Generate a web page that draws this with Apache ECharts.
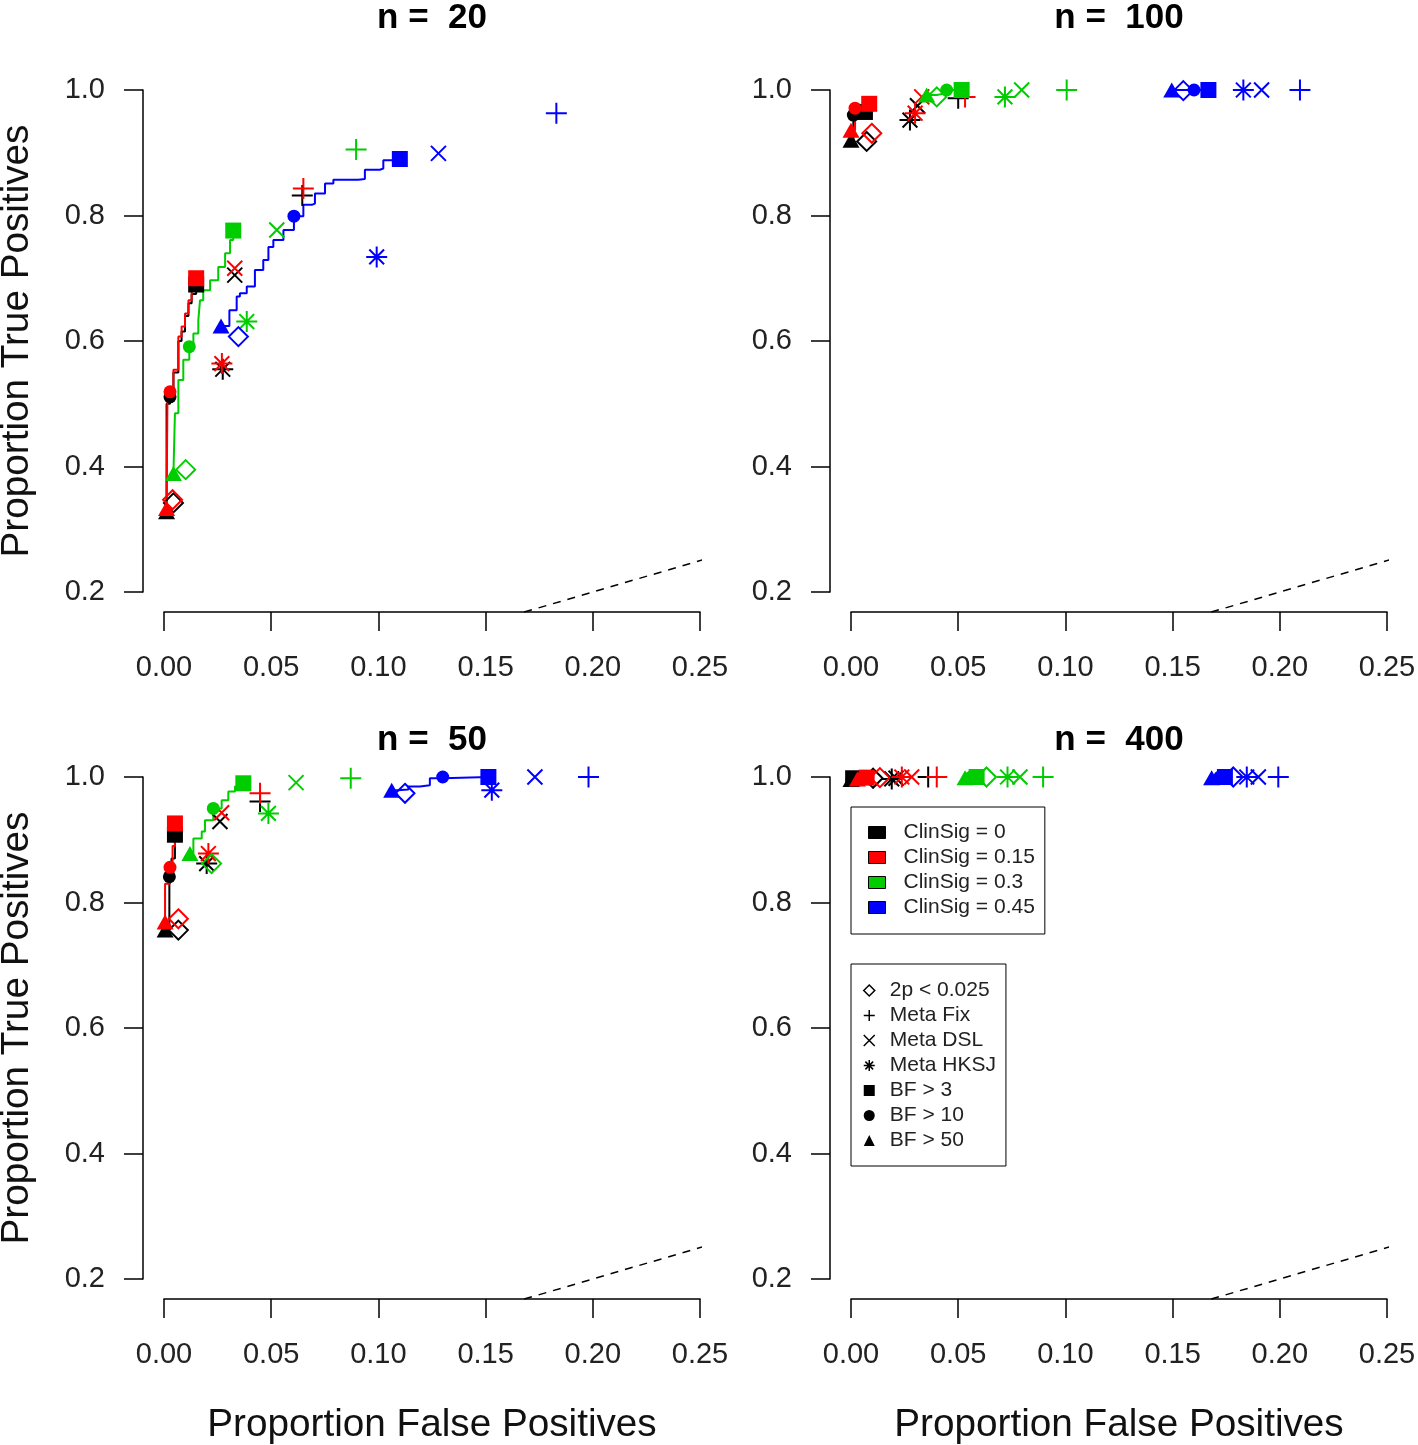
<!DOCTYPE html>
<html><head><meta charset="utf-8">
<script src="https://cdn.jsdelivr.net/npm/echarts@6/dist/echarts.min.js"></script>
<style>html,body{margin:0;padding:0;background:#fff}#chart{width:1418px;height:1445px}</style>
</head><body><div id="chart"></div>
<script>
// ---------- labels ----------
const methods = ['2p < 0.025', 'Meta Fix', 'Meta DSL', 'Meta HKSJ', 'BF > 3', 'BF > 10', 'BF > 50'];
const clinSig = ['ClinSig = 0', 'ClinSig = 0.15', 'ClinSig = 0.3', 'ClinSig = 0.45'];
const clinColors = ['#000000', '#FF0000', '#00CD00', '#0000FF'];
const panelTitles = ['n =  20', 'n =  100', 'n =  50', 'n =  400'];
const xTickLabels = ['0.00', '0.05', '0.10', '0.15', '0.20', '0.25'];
const yTickLabels = ['0.2', '0.4', '0.6', '0.8', '1.0'];

// ---------- data: rows = clinSig, columns = methods ----------
// n = 20
const n20_fpr = [
  [0.0044, 0.0645, 0.033, 0.0274, 0.015, 0.0028, 0.0012],
  [0.0040, 0.065, 0.033, 0.027, 0.015, 0.0028, 0.0012],
  [0.0101, 0.0896, 0.0526, 0.0386, 0.0323, 0.0118, 0.0044],
  [0.0347, 0.183, 0.128, 0.0992, 0.110, 0.0606, 0.0266]
];
const n20_tpr = [
  [0.342, 0.832, 0.705, 0.555, 0.690, 0.511, 0.328],
  [0.347, 0.843, 0.716, 0.564, 0.700, 0.519, 0.333],
  [0.395, 0.905, 0.777, 0.631, 0.776, 0.591, 0.389],
  [0.607, 0.963, 0.899, 0.734, 0.890, 0.799, 0.624]
];
const n20_curves = [
  [[0.0012,0.328],[0.0012,0.50],[0.0028,0.511],[0.0044,0.55],[0.0067,0.60],[0.0082,0.615],[0.0098,0.64],[0.0114,0.66],[0.0129,0.675],[0.015,0.69]],
  [[0.0012,0.333],[0.0016,0.506],[0.0028,0.519],[0.0044,0.554],[0.0067,0.607],[0.0082,0.623],[0.0098,0.644],[0.0114,0.665],[0.0129,0.681],[0.015,0.70]],
  [[0.0044,0.389],[0.0051,0.485],[0.0067,0.538],[0.009,0.570],[0.0118,0.591],[0.0137,0.612],[0.016,0.633],[0.0168,0.665],[0.0183,0.681],[0.0215,0.697],[0.0253,0.718],[0.0285,0.740],[0.0308,0.761],[0.0323,0.776]],
  [[0.0266,0.624],[0.0305,0.625],[0.0305,0.649],[0.0339,0.671],[0.0354,0.676],[0.0386,0.687],[0.0424,0.713],[0.0463,0.729],[0.0487,0.750],[0.051,0.761],[0.0557,0.777],[0.0606,0.799],[0.065,0.817],[0.0689,0.819],[0.0704,0.835],[0.0751,0.851],[0.079,0.857],[0.0906,0.858],[0.0937,0.873],[0.1007,0.875],[0.1023,0.888],[0.110,0.890]]
];
// n = 100
const n100_fpr = [
  [0.0073, 0.050, 0.031, 0.0275, 0.0065, 0.0011, 0.0],
  [0.0097, 0.0532, 0.033, 0.0299, 0.0085, 0.0019, 0.0],
  [0.040, 0.1006, 0.0796, 0.0718, 0.0516, 0.0446, 0.0353],
  [0.155, 0.2094, 0.1915, 0.183, 0.1667, 0.160, 0.1496]
];
const n100_tpr = [
  [0.918, 0.987, 0.975, 0.952, 0.965, 0.960, 0.920],
  [0.931, 0.989, 0.989, 0.963, 0.978, 0.971, 0.936],
  [0.989, 1.0, 1.0, 0.989, 1.0, 1.0, 0.992],
  [0.999, 1.0, 1.0, 1.0, 1.0, 1.0, 1.0]
];
const n100_curves = [
  [[0.0,0.920],[0.0011,0.960],[0.0065,0.965]],
  [[0.0,0.936],[0.0019,0.971],[0.0085,0.978]],
  [[0.0353,0.992],[0.040,0.995],[0.0446,1.0],[0.0516,1.0]],
  [[0.1496,1.0],[0.160,1.0],[0.1667,1.0]]
];
// n = 50
const n50_fpr = [
  [0.0067, 0.0448, 0.0261, 0.0199, 0.0051, 0.0025, 0.0005],
  [0.0067, 0.0448, 0.0269, 0.0207, 0.0051, 0.0028, 0.0005],
  [0.0222, 0.0871, 0.0616, 0.0487, 0.037, 0.023, 0.0121],
  [0.1124, 0.198, 0.173, 0.1529, 0.1513, 0.130, 0.1062]
];
const n50_tpr = [
  [0.756, 0.961, 0.929, 0.862, 0.908, 0.841, 0.756],
  [0.774, 0.974, 0.943, 0.878, 0.926, 0.856, 0.769],
  [0.862, 0.998, 0.991, 0.942, 0.990, 0.950, 0.878],
  [0.974, 1.0, 1.0, 0.979, 1.0, 1.0, 0.979]
];
const n50_curves = [
  [[0.0005,0.756],[0.0025,0.80],[0.0025,0.841],[0.0035,0.87],[0.0051,0.908]],
  [[0.0005,0.769],[0.0005,0.83],[0.0028,0.856],[0.004,0.89],[0.0051,0.926]],
  [[0.0121,0.878],[0.0137,0.902],[0.0176,0.913],[0.0191,0.931],[0.023,0.950],[0.0269,0.963],[0.03,0.977],[0.0331,0.985],[0.037,0.990]],
  [[0.1062,0.979],[0.109,0.980],[0.114,0.985],[0.1194,0.987],[0.124,0.998],[0.130,1.0],[0.1513,1.0]]
];
// n = 400
const n400_fpr = [
  [0.0103, 0.036, 0.021, 0.019, 0.001, 0.0005, 0.0],
  [0.0135, 0.040, 0.0283, 0.0237, 0.0073, 0.005, 0.003],
  [0.0632, 0.0896, 0.0788, 0.073, 0.0586, 0.056, 0.0532],
  [0.1783, 0.1993, 0.19, 0.1846, 0.1744, 0.172, 0.1682]
];
const n400_tpr = [
  [0.998, 1.0, 0.998, 0.997, 0.998, 0.997, 0.996],
  [0.999, 1.0, 1.0, 1.0, 0.999, 0.998, 0.997],
  [1.0, 1.0, 1.0, 1.0, 1.0, 1.0, 0.999],
  [1.0, 1.0, 1.0, 1.0, 1.0, 1.0, 0.999]
];
const n400_curves = [
  [[0.0,0.996],[0.0005,0.997],[0.001,0.998]],
  [[0.003,0.997],[0.005,0.998],[0.0073,0.999]],
  [[0.0532,0.999],[0.056,1.0],[0.0586,1.0]],
  [[0.1682,0.999],[0.172,1.0],[0.1744,1.0]]
];
// reference line y = x (ends at the plot region edges)
const diagonal = [[0.168, 0.168], [0.26, 0.26]];

// ---------- layout / style ----------
const FONT = '"Liberation Sans", Arial, sans-serif';
const panels = [
  { fpr: n20_fpr, tpr: n20_tpr, curves: n20_curves, left: 164, top: 90, titleTop: 1, xName: false, yName: true },
  { fpr: n100_fpr, tpr: n100_tpr, curves: n100_curves, left: 851, top: 90, titleTop: 1, xName: false, yName: false },
  { fpr: n50_fpr, tpr: n50_tpr, curves: n50_curves, left: 164, top: 777, titleTop: 723, xName: true, yName: true },
  { fpr: n400_fpr, tpr: n400_tpr, curves: n400_curves, left: 851, top: 777, titleTop: 723, xName: true, yName: false }
];
const PLUS = 'path://M0,10.5L21,10.5M10.5,0L10.5,21';
const CROSS = 'path://M0,0L15,15M15,0L0,15';
const STAR = 'path://M0,10.5L21,10.5M10.5,0L10.5,21M3.1,3.1L17.9,17.9M17.9,3.1L3.1,17.9';
const MARKERS = [
  { symbol: 'diamond', size: 19, hollow: true },
  { symbol: PLUS, size: 21, hollow: true },
  { symbol: CROSS, size: 15, hollow: true },
  { symbol: STAR, size: 21, hollow: true },
  { symbol: 'rect', size: 16 },
  { symbol: 'circle', size: 13 },
  { symbol: 'triangle', size: [17, 15] }
];
const CLEAR = 'rgba(0,0,0,0)';

const grids = [], xAxes = [], yAxes = [], series = [], titles = [];
panels.forEach((p, i) => {
  grids.push({ left: p.left, top: p.top, width: 536, height: 502, containLabel: false, outerBoundsMode: 'none' });
  titles.push({
    text: panelTitles[i], left: p.left + 268, top: p.titleTop, textAlign: 'center', padding: 0,
    textStyle: { fontSize: 35, fontWeight: 'bold', color: '#000', fontFamily: FONT }
  });
  xAxes.push({
    gridIndex: i, type: 'value', min: 0, max: 0.25, interval: 0.05, offset: 20,
    axisLine: { show: true, onZero: false, lineStyle: { color: '#000', width: 1.5 } },
    axisTick: { show: true, length: 19, lineStyle: { color: '#000', width: 1.5 } },
    axisLabel: { margin: 41, fontSize: 29, color: '#222', fontFamily: FONT,
      formatter: v => xTickLabels[Math.round(v / 0.05)] },
    splitLine: { show: false },
    name: p.xName ? 'Proportion False Positives' : '', nameLocation: 'middle', nameGap: 107,
    nameTextStyle: { fontSize: 38.7, color: '#111', fontFamily: FONT }
  });
  yAxes.push({
    gridIndex: i, type: 'value', min: 0.2, max: 1.0, interval: 0.2, offset: 21,
    axisLine: { show: true, onZero: false, lineStyle: { color: '#000', width: 1.5 } },
    axisTick: { show: true, length: 19, lineStyle: { color: '#000', width: 1.5 } },
    axisLabel: { margin: 38, fontSize: 29, color: '#222', fontFamily: FONT,
      formatter: v => yTickLabels[Math.round((v - 0.2) / 0.2)] },
    splitLine: { show: false },
    name: p.yName ? 'Proportion True Positives' : '', nameLocation: 'middle', nameGap: 106,
    nameTextStyle: { fontSize: 38.7, color: '#111', fontFamily: FONT }
  });
  series.push({
    type: 'line', name: 'diag' + i, xAxisIndex: i, yAxisIndex: i, data: diagonal,
    symbol: 'none', clip: false, silent: true,
    lineStyle: { color: '#000', width: 1.5, type: [8, 7] }, z: 1
  });
  p.curves.forEach((c, k) => {
    series.push({
      type: 'line', name: 'roc' + i + '_' + k, xAxisIndex: i, yAxisIndex: i, data: c,
      step: 'end', symbol: 'none', clip: false, silent: true,
      lineStyle: { color: clinColors[k], width: 2 }, z: 2
    });
  });
  clinColors.forEach((col, k) => {
    const data = methods.map((m, j) => {
      const mk = MARKERS[j];
      return {
        value: [p.fpr[k][j], p.tpr[k][j]],
        symbol: mk.symbol, symbolSize: mk.size,
        itemStyle: mk.hollow
          ? { color: CLEAR, borderColor: col, borderWidth: 2, opacity: 1 }
          : { color: col, borderWidth: 0, opacity: 1 }
      };
    });
    series.push({
      type: 'scatter', name: clinSig[k], xAxisIndex: i, yAxisIndex: i, data,
      clip: false, silent: true, itemStyle: { color: col, opacity: 1 }, z: 3
    });
  });
});
// series for the marker legend (no data)
const legendMarkerStyles = MARKERS.map(mk => mk.hollow
  ? { color: CLEAR, borderColor: '#000', borderWidth: 1.5, opacity: 1 }
  : { color: '#000', borderWidth: 0, opacity: 1 });
methods.forEach((m, j) => {
  series.push({ type: 'scatter', name: m, xAxisIndex: 3, yAxisIndex: 3, data: [],
    symbol: MARKERS[j].symbol, itemStyle: legendMarkerStyles[j], silent: true });
});

const legendText = { fontSize: 21, color: '#222', fontFamily: FONT, lineHeight: 21 };
const option = {
  animation: false,
  backgroundColor: '#fff',
  title: titles,
  grid: grids,
  xAxis: xAxes,
  yAxis: yAxes,
  legend: [
    {
      orient: 'vertical', left: 851, top: 807, selectedMode: false,
      padding: [15, 10, 16, 17], itemGap: 4, itemWidth: 17, itemHeight: 12,
      borderColor: '#000', borderWidth: 1,
      textStyle: Object.assign({ padding: [0, 0, 0, 13] }, legendText),
      itemStyle: { borderColor: '#000', borderWidth: 1, opacity: 1 },
      data: clinSig.map(n => ({ name: n, icon: 'rect' }))
    },
    {
      orient: 'vertical', left: 851, top: 964, selectedMode: false,
      padding: [16, 10, 15, 12], itemGap: 4, itemWidth: 11, itemHeight: 11,
      borderColor: '#000', borderWidth: 1,
      textStyle: Object.assign({ padding: [0, 0, 0, 10] }, legendText),
      data: methods.map((m, j) => ({ name: m, icon: MARKERS[j].symbol, itemStyle: legendMarkerStyles[j] }))
    }
  ],
  series
};
const chart = echarts.init(document.getElementById('chart'), null, { renderer: 'canvas' });
chart.setOption(option);
</script>
</body></html>
